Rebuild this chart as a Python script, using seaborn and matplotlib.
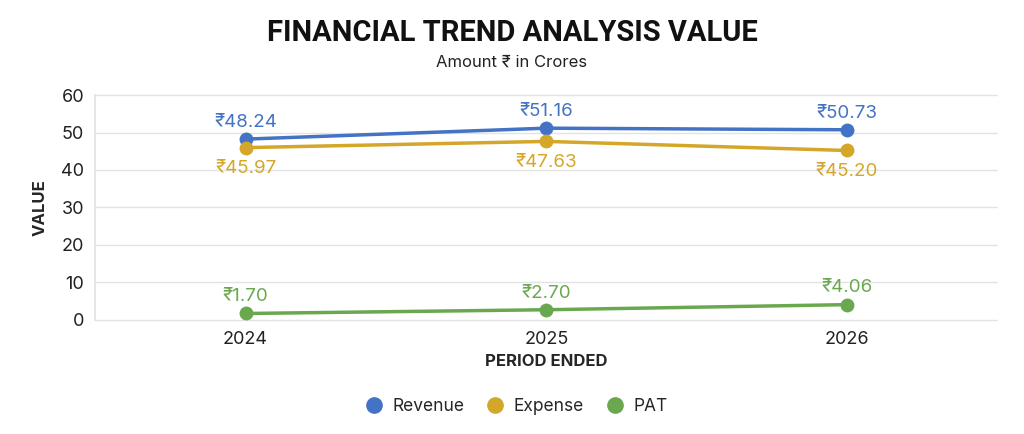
import matplotlib
matplotlib.use("Agg")
import matplotlib.pyplot as plt
import seaborn as sns
import pandas as pd

years = ["2024", "2025", "2026"]
revenue = [48.24, 51.16, 50.73]
expense = [45.97, 47.63, 45.20]
pat = [1.70, 2.70, 4.06]

series = ["Revenue", "Expense", "PAT"]
colors = {"Revenue": "#4472C4", "Expense": "#D4A62A", "PAT": "#6AA84F"}

df = pd.DataFrame({
    "year": years * 3,
    "value": revenue + expense + pat,
    "series": ["Revenue"] * 3 + ["Expense"] * 3 + ["PAT"] * 3,
})

sns.set_theme(style="white")
plt.rcParams["font.family"] = ["Inter", "DejaVu Sans"]

fig = plt.figure(figsize=(10.24, 4.34), dpi=100)
ax = fig.add_axes([0.093, 0.263, 0.881, 0.518])

sns.lineplot(data=df, x="year", y="value", hue="series", palette=colors,
             marker="o", markersize=10, markeredgewidth=0, linewidth=2.5,
             sort=False, ax=ax, legend=False)

# data labels
offsets = {"Revenue": 12, "Expense": -15, "PAT": 12}
for name in series:
    sub = df[df["series"] == name].reset_index(drop=True)
    for i, row in sub.iterrows():
        ax.annotate(f"₹{row['value']:.2f}", (i, row["value"]),
                    xytext=(0, offsets[name]), textcoords="offset points",
                    ha="center", va="center", fontsize=13.5, color=colors[name])

ax.set_xlim(-0.5, 2.5)
ax.set_ylim(0, 60)
ax.set_yticks(range(0, 61, 10))
ax.grid(axis="y", color="#E3E3E3", linewidth=1)
for gl in ax.get_ygridlines():
    gl.set_clip_on(False)
ax.set_axisbelow(True)
for s in ["top", "right", "bottom"]:
    ax.spines[s].set_visible(False)
ax.spines["left"].set_color("#E3E3E3")
ax.tick_params(axis="both", labelsize=13, colors="#222222", length=0, pad=8)

ax.set_xlabel("PERIOD ENDED", fontsize=12, fontweight="bold", labelpad=4)
ax.set_ylabel("VALUE", fontsize=12, fontweight="bold", labelpad=10)

fig.text(0.5, 0.925, "FINANCIAL TREND ANALYSIS VALUE", ha="center", va="center",
         fontsize=21, fontweight="bold", color="#111111",
         family=["Roboto", "DejaVu Sans"])
fig.text(0.5, 0.857, "Amount ₹ in Crores", ha="center", va="center",
         fontsize=12, color="#222222")

handles = [plt.Line2D([], [], marker="o", linestyle="", markersize=11,
                      color=colors[n]) for n in series]
fig.legend(handles, series, loc="center", bbox_to_anchor=(0.5, 0.064),
           ncol=3, frameon=False, fontsize=12.5, handletextpad=0.05,
           columnspacing=0.8)

fig.savefig("out.png", dpi=100, facecolor="white")
